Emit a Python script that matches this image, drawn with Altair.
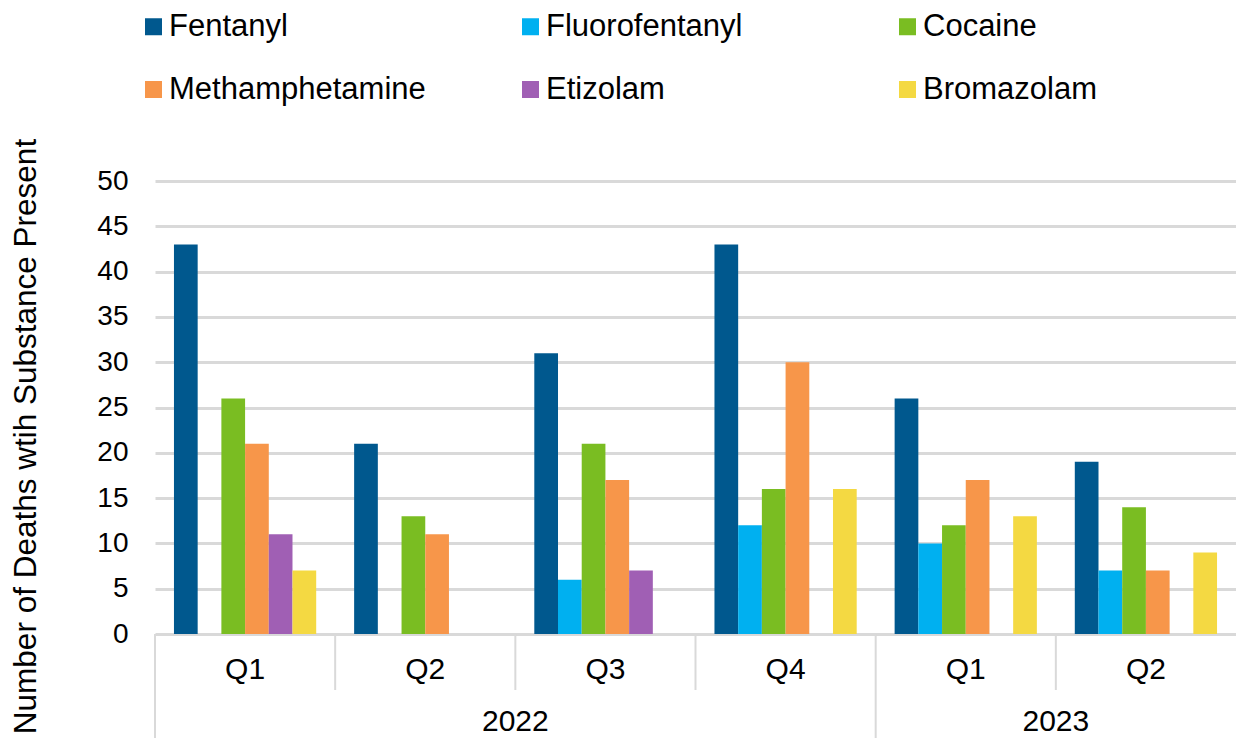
import altair as alt
import pandas as pd

# ---- data ----
years = ["2022", "2022", "2022", "2022", "2023", "2023"]
quarters = ["Q1", "Q2", "Q3", "Q4", "Q1", "Q2"]
substances = ["Fentanyl", "Fluorofentanyl", "Cocaine", "Methamphetamine", "Etizolam", "Bromazolam"]
colors = ["#00588E", "#00B0F0", "#7ABD22", "#F7964A", "#A05FB4", "#F4D942"]

fentanyl = [43, 21, 31, 43, 26, 19]
fluorofentanyl = [None, None, 6, 12, 10, 7]
cocaine = [26, 13, 21, 16, 12, 14]
methamphetamine = [21, 11, 17, 30, 17, 7]
etizolam = [11, None, 7, None, None, None]
bromazolam = [7, None, None, 16, 13, 9]

series = [fentanyl, fluorofentanyl, cocaine, methamphetamine, etizolam, bromazolam]
y_ticks = list(range(0, 51, 5))

periods = [f"{y} {q}" for y, q in zip(years, quarters)]

rows = []
for name, vals in zip(substances, series):
    for p, v in zip(periods, vals):
        if v is not None:
            rows.append({"period": p, "substance": name, "deaths": v})
df = pd.DataFrame(rows)

qdf = pd.DataFrame({"period": periods, "quarter": quarters})

# year labels anchored at the middle boundary of each year's quarters
ydf_rows = []
sep_rows = []
for yr in dict.fromkeys(years):
    ps = [p for p, y in zip(periods, years) if y == yr]
    ydf_rows.append({"period": ps[len(ps) // 2], "year": yr})
for i, p in enumerate(periods):
    kind = "long" if i == 0 or years[i] != years[i - 1] else "short"
    sep_rows.append({"period": p, "kind": kind})
ydf = pd.DataFrame(ydf_rows)
sdf = pd.DataFrame(sep_rows)

W, H = 1081, 453
FONT = "Liberation Sans"

xscale = alt.Scale(paddingInner=0, paddingOuter=0)
xenc = alt.X("period:N", sort=periods, axis=None, scale=xscale)

bars = alt.Chart(df).mark_bar().encode(
    x=xenc,
    xOffset=alt.XOffset("substance:N", sort=substances,
                        scale=alt.Scale(domain=substances, paddingInner=0, paddingOuter=0.8)),
    y=alt.Y("deaths:Q", scale=alt.Scale(domain=[0, 50], nice=False),
            axis=alt.Axis(values=y_ticks, title="Number of Deaths wtih Substance Present",
                          domain=False, ticks=False, labelPadding=27, labelFontSize=28,
                          labelColor="black", gridColor="#D9D9D9", gridWidth=3,
                          titleFontSize=31.5, titleFontWeight="normal", titleColor="black",
                          titleX=-120, titleY=255, titleBaseline="alphabetic", titleAlign="center")),
    color=alt.Color("substance:N", sort=substances,
                    scale=alt.Scale(domain=substances, range=colors),
                    legend=alt.Legend(title=None, orient="none", legendX=-17, legendY=-170,
                                      direction="horizontal",
                                      columns=3, gridAlign="all", columnPadding=89,
                                      rowPadding=31, symbolType="square", symbolSize=289,
                                      symbolStrokeWidth=0, labelFontSize=31, labelOffset=0,
                                      labelColor="black", padding=0, labelLimit=400,
                                      labelExpr="datum.value == 'Fluorofentanyl' ? '\\u00a0Fluorofentanyl' : datum.label")),
)

qtext = alt.Chart(qdf).mark_text(fontSize=30, baseline="middle", color="black", font=FONT).encode(
    x=alt.X("period:N", sort=periods),
    y=alt.value(H + 36),
    text="quarter:N",
)

ytext = alt.Chart(ydf).mark_text(fontSize=30, baseline="middle", color="black", font=FONT).encode(
    x=alt.X("period:N", sort=periods, bandPosition=0),
    y=alt.value(H + 88),
    text="year:N",
)

short_sep = alt.Chart(sdf).transform_filter(alt.datum.kind == "short").mark_rule(
    color="#D9D9D9", strokeWidth=2).encode(
    x=alt.X("period:N", sort=periods, bandPosition=0),
    y=alt.value(H), y2=alt.value(H + 56),
)
long_sep = alt.Chart(sdf).transform_filter(alt.datum.kind == "long").mark_rule(
    color="#D9D9D9", strokeWidth=2).encode(
    x=alt.X("period:N", sort=periods, bandPosition=0),
    y=alt.value(H), y2=alt.value(H + 104),
)

chart = alt.layer(bars, short_sep, long_sep, qtext, ytext).properties(
    width=W, height=H,
    autosize=alt.AutoSizeParams(type="none"),
    padding={"left": 147, "top": 173, "right": 0, "bottom": 104},
).configure(font=FONT).configure_view(stroke=None)

chart.save("out.html", embed_options={"renderer": "svg", "actions": False})
